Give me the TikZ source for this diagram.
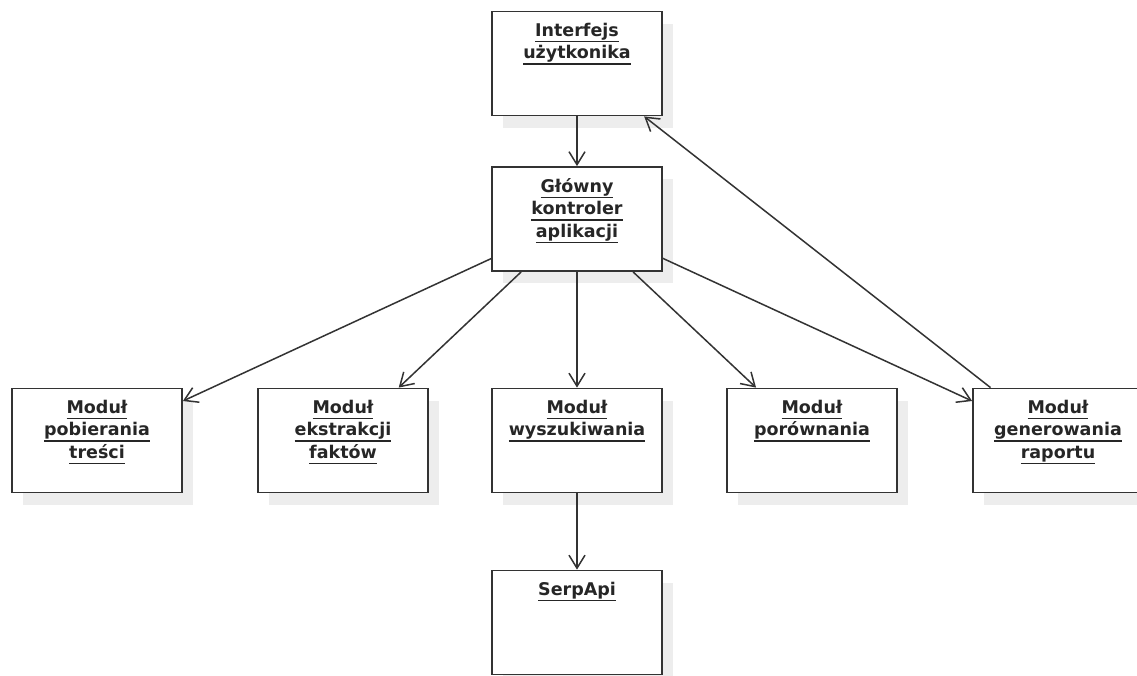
\documentclass[tikz,border=0pt]{standalone}
\usepackage{fontspec}
\setmainfont{DejaVu Sans}
\usepackage{tikz}
\usetikzlibrary{arrows.meta,shadows}

\newcommand{\undl}[1]{\setbox0\hbox{#1}\rlap{\rule[-6pt]{\wd0}{1.4pt}}\box0}

\begin{document}
\begin{tikzpicture}[x=1pt, y=-1pt,
		modul/.style={draw=black!80, line width=1.8pt, fill=white, minimum width=170pt, minimum height=104pt, inner sep=0pt,
			drop shadow={shadow xshift=11pt, shadow yshift=-12pt, fill=black!7, opacity=1}},
		napis/.style={anchor=north, inner sep=0pt, align=center, font=\bfseries\fontsize{17.5}{22.5}\selectfont, text=black!85},
		strz/.style={draw=black!80, line width=1.5pt, -{Straight Barb[length=13pt, width=16pt, line width=1.5pt]}}]
				\useasboundingbox[fill=white] (0,0) rectangle (1137,675);
				\node[modul] (iface) at (577,63.5) {};
				\node[modul] (ctrl) at (577,219) {};
				\node[modul] (pob) at (97,440.5) {};
				\node[modul] (ekst) at (343,440.5) {};
				\node[modul] (wysz) at (577,440.5) {};
				\node[modul] (por) at (812,440.5) {};
				\node[modul] (gen) at (1058,440.5) {};
				\node[modul] (serp) at (577,622.5) {};
				% podpisy
				\node[napis] at ([yshift=-12pt]iface.north) {\undl{Interfejs}\\\undl{użytkonika}};
				\node[napis] at ([yshift=-12pt]ctrl.north) {\undl{Główny}\\\undl{kontroler}\\\undl{aplikacji}};
				\node[napis] at ([yshift=-12pt]pob.north) {\undl{Moduł}\\\undl{pobierania}\\\undl{treści}};
				\node[napis] at ([yshift=-12pt]ekst.north) {\undl{Moduł}\\\undl{ekstrakcji}\\\undl{faktów}};
				\node[napis] at ([yshift=-12pt]wysz.north) {\undl{Moduł}\\\undl{wyszukiwania}};
				\node[napis] at ([yshift=-12pt]por.north) {\undl{Moduł}\\\undl{porównania}};
				\node[napis] at ([yshift=-12pt]gen.north) {\undl{Moduł}\\\undl{generowania}\\\undl{raportu}};
				\node[napis] at ([yshift=-12pt]serp.north) {\undl{SerpApi}};
				% strzalki
				\draw[strz] (iface) -- (ctrl);
				\foreach \m in {pob,ekst,wysz,por,gen} {
					\draw[strz] (ctrl) -- (\m);
				}
				\draw[strz] (wysz) -- (serp);
				\draw[strz] (gen) -- (iface);
			\end{tikzpicture}
\end{document}
